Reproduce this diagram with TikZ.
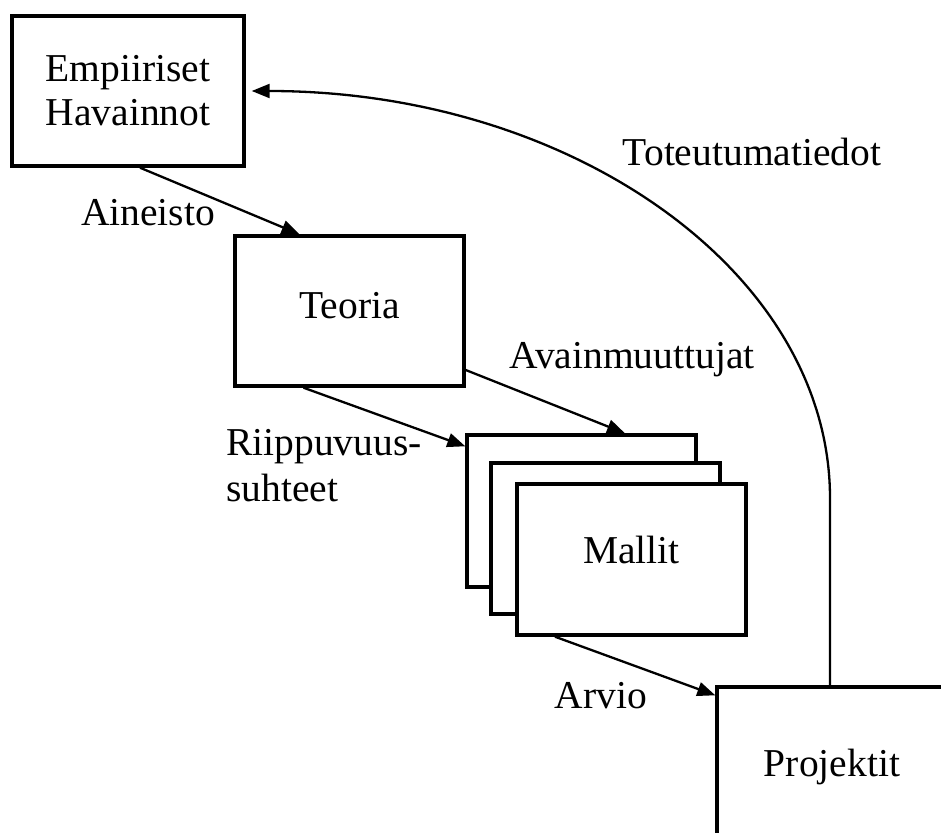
\documentclass[tikz,border=0pt]{standalone}
\usepackage{fontspec}
\setmainfont{Liberation Serif}
\usetikzlibrary{arrows.meta}
\begin{document}
\begin{tikzpicture}[x=1pt,y=-1pt,
  box/.style={draw, line width=3.4pt, fill=white, inner sep=0pt,
    minimum width=229pt, minimum height=150pt,
    font=\fontsize{39.5}{44}\selectfont, align=center},
  lbl/.style={inner sep=0pt, font=\fontsize{39.5}{46}\selectfont, align=left},
  flow/.style={line width=2.3pt, -{Triangle[length=18pt,width=14pt]}}
]
\useasboundingbox (0,0) rectangle (941,832);
\clip (0,0) rectangle (941,832);

% boxes
\node[box, minimum width=232pt] (emp) at (128,91) {Empiiriset\\Havainnot};
\node[box, text depth=12pt] (teo) at (349.5,311) {Teoria};
\node[box, minimum height=152pt] (m1) at (581.5,511) {};
\node[box, minimum height=151pt] (m2) at (605.5,538.5) {};
\node[box, minimum height=151pt, text depth=20pt] (m3) at (631.5,559.5) {Mallit};
\node[box, minimum width=230pt, minimum height=160pt] (proj) at (832,767) {Projektit};

% connectors
\draw[flow] ([xshift=12pt]emp.south) -- ([xshift=-50pt]teo.north);
\draw[flow] ([xshift=-46pt]teo.south) -- ([yshift=-13pt]m1.north west);
\draw[flow] ([yshift=-59pt]teo.east) -- ([xshift=43.5pt]m1.north);
\draw[flow] ([xshift=-76.5pt]m3.south) -- ([yshift=-10pt]proj.north west);
\draw[flow] ([xshift=-2pt]proj.north) -- ++(0,-187)
  .. controls +(0,-226) and ([xshift=326pt]emp.east) .. ([xshift=6pt]emp.east);

% connector labels
\node[lbl] (laine) at (148,213) {Aineisto};
\node[lbl] (lavain) at (632,360) {Avainmuuttujat};
\node[lbl, anchor=west] (lriip) at (226,466) {Riippuvuus-\\suhteet};
\node[lbl] (larvio) at (601,696) {Arvio};
\node[lbl] (ltot) at (752,152) {Toteutumatiedot};
\end{tikzpicture}
\end{document}
